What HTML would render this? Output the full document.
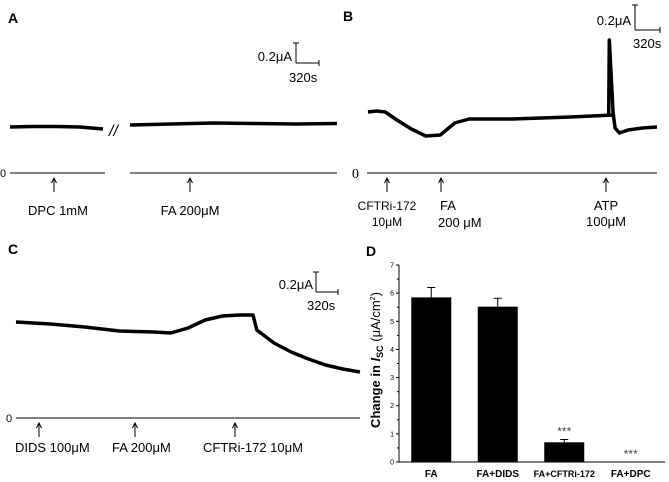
<!DOCTYPE html>
<html><head><meta charset="utf-8"><style>
body{margin:0;background:#fff}
svg{display:block;font-family:"Liberation Sans",Arial,sans-serif}
</style></head><body>
<svg id="fig" width="669" height="482" viewBox="0 0 669 482">
<!-- Panel A -->
<g>
<text x="8" y="23" font-size="14" font-weight="bold">A</text>
<g stroke="#000" stroke-width="1">
<line x1="296" y1="43" x2="296" y2="63"/><line x1="293" y1="43" x2="299" y2="43"/><line x1="296" y1="63" x2="319" y2="63"/><line x1="319" y1="60" x2="319" y2="66"/></g>
<text x="292" y="61" font-size="13" text-anchor="end">0.2μA</text>
<text x="289" y="82" font-size="13">320s</text>
<text x="109" y="136" font-size="16" font-style="italic">//</text>
<text x="0" y="177" font-size="11">0</text>
<line x1="10" y1="173" x2="105" y2="173" stroke="#000"/>
<line x1="130" y1="173" x2="337" y2="173" stroke="#000"/>
<text x="58" y="215" font-size="13" text-anchor="middle">DPC 1mM</text>
<text x="190" y="215" font-size="13" text-anchor="middle">FA 200μM</text>
</g>
<!-- Panel B -->
<g>
<text x="343" y="21" font-size="14" font-weight="bold">B</text>
<g stroke="#000" stroke-width="1">
<line x1="635" y1="5" x2="635" y2="30"/><line x1="632" y1="5" x2="638" y2="5"/><line x1="635" y1="30" x2="660" y2="30"/><line x1="660" y1="27" x2="660" y2="33"/></g>
<text x="631" y="25" font-size="13" text-anchor="end">0.2μA</text>
<text x="633" y="48" font-size="13">320s</text>
<text x="352" y="178" font-size="14" font-family="Liberation Serif,serif">0</text>
<line x1="367" y1="173" x2="657" y2="173" stroke="#000"/>
<text x="387" y="210" font-size="12" text-anchor="middle">CFTRi-172</text>
<text x="387" y="226" font-size="12" text-anchor="middle">10μM</text>
<text x="440" y="210" font-size="13">FA</text>
<text x="438" y="227" font-size="13">200 μM</text>
<text x="606" y="210" font-size="13" text-anchor="middle">ATP</text>
<text x="606" y="226" font-size="13" text-anchor="middle">100μM</text>
</g>
<!-- Panel C -->
<g>
<text x="8" y="254" font-size="14" font-weight="bold">C</text>
<g stroke="#000" stroke-width="1">
<line x1="316" y1="272" x2="316" y2="292"/><line x1="313" y1="272" x2="319" y2="272"/><line x1="316" y1="292" x2="338" y2="292"/><line x1="338" y1="289" x2="338" y2="295"/></g>
<text x="313" y="289" font-size="13" text-anchor="end">0.2μA</text>
<text x="307" y="310" font-size="13">320s</text>
<text x="6" y="422" font-size="11">0</text>
<line x1="16" y1="418" x2="360" y2="418" stroke="#000"/>
<text x="15" y="452" font-size="13">DIDS 100μM</text>
<text x="112" y="452" font-size="13">FA 200μM</text>
<text x="203" y="452" font-size="13">CFTRi-172 10μM</text>
</g>
<!-- Panel D -->
<g>
<text x="366" y="256" font-size="14" font-weight="bold">D</text>
<text transform="translate(380,360) rotate(-90)" font-size="13" font-weight="bold" text-anchor="middle">Change in <tspan font-style="italic">I</tspan><tspan font-size="9" dy="3">SC</tspan><tspan dy="-3" font-weight="normal"> (μA/cm</tspan><tspan font-size="7" dy="-5" font-weight="normal">2</tspan><tspan dy="5" font-weight="normal">)</tspan></text>
<g id="dplot"></g>
</g>
<g id="traces"></g>
</svg>
<script>
// Panel D data
const dCategories = ["FA", "FA+DIDS", "FA+CFTRi-172", "FA+DPC"];
const dValues = [5.85, 5.52, 0.70, 0.0];
const dErrors = [0.35, 0.30, 0.10, 0.0];
const dStars = ["", "", "***", "***"];
const dTicks = [0, 1, 2, 3, 4, 5, 6, 7];

// Traces: [time fraction, current] key points
const traceA1T = [0, 0.25, 0.5, 0.75, 1];
const traceA1V = [46, 46.5, 46.5, 46, 44];
const traceA2T = [0, 0.2, 0.4, 0.6, 0.8, 1];
const traceA2V = [48, 49, 50, 49.5, 49, 49.5];
const traceBT = [0, 0.03, 0.06, 0.1, 0.15, 0.2, 0.25, 0.3, 0.35, 0.5, 0.7, 0.85, 0.833, 0.835, 0.842, 0.848, 0.855, 0.87, 0.9, 0.95, 1];
const traceBV = [61, 62, 61, 53, 44, 37, 38, 50, 54, 54, 56, 58, 58, 133, 95, 60, 45, 40, 43, 45, 46];
const traceCT = [0, 0.1, 0.2, 0.3, 0.4, 0.45, 0.5, 0.55, 0.6, 0.65, 0.689, 0.7, 0.75, 0.8, 0.85, 0.9, 0.95, 1];
const traceCV = [96, 94, 91, 87, 86, 85, 90, 98, 102, 103, 103, 88, 75, 66, 59, 53, 49, 46];

const NS = "http://www.w3.org/2000/svg";
function mk(tag, attrs, parent) {
  const el = document.createElementNS(NS, tag);
  for (const k in attrs) el.setAttribute(k, attrs[k]);
  parent.appendChild(el);
  return el;
}

const dp = document.getElementById("dplot");
const x0 = 399, x1 = 665, yBase = 462, yTop = 265, yMax = 7;
const yS = v => yBase - (v / yMax) * (yBase - yTop);
const band = (x1 - x0) / dCategories.length;
const xC = i => x0 + band * (i + 0.5) - 1;
const yAxis = mk("line", {x1: x0, y1: yS(yMax), x2: x0, y2: yBase, stroke: "#000"}, dp);


const xAxis = mk("line", {x1: x0, y1: yBase, x2: x1, y2: yBase, stroke: "#000"}, dp);


dTicks.forEach(t => {
  const tl = mk("line", {x1: x0 - 3, y1: yS(t), x2: x0, y2: yS(t), stroke: "#000"}, dp);
  
  
  if (t < yMax) {
    const m = mk("line", {x1: x0 - 2, y1: yS(t + 0.5), x2: x0, y2: yS(t + 0.5), stroke: "#000"}, dp);
    
    
  }
  const tx = mk("text", {x: x0 - 5, y: yS(t) + 2.5, "font-size": 7, "text-anchor": "end"}, dp);
  tx.textContent = t;
  
  
});
dCategories.forEach((c, i) => {
  const cx = xC(i), w = 40;
  if (dValues[i] > 0) {
    const b = mk("rect", {x: cx - w / 2, y: yS(dValues[i]), width: w, height: yBase - yS(dValues[i]), fill: "#000"}, dp);
    
    
  }
  if (dErrors[i] > 0) {
    const e = mk("path", {d: `M${cx},${yS(dValues[i])}V${yS(dValues[i] + dErrors[i])}M${cx - 4},${yS(dValues[i] + dErrors[i])}H${cx + 4}`, stroke: "#000", fill: "none"}, dp);
    
    
  }
  if (dStars[i]) {
    const s = mk("text", {x: cx, y: yS(dValues[i] + dErrors[i]) - 4, "font-size": 12, "text-anchor": "middle", fill: "#444"}, dp);
    s.textContent = dStars[i];
    
    
  }
  const l = mk("text", {x: cx, y: 477, "font-size": i === 2 ? 9 : 10, "font-weight": "bold", "text-anchor": "middle"}, dp);
  l.textContent = c;
  
  
});

const tg = document.getElementById("traces");
function trace(ts, vs, xa, xb, base, name) {
  const d = ts.map((t, i) => (i ? "L" : "M") + (xa + t * (xb - xa)).toFixed(1) + "," + (base - vs[i]).toFixed(1)).join("");
  const p = mk("path", {d: d, stroke: "#000", "stroke-width": 3.5, fill: "none", "stroke-linejoin": "round"}, tg);
  
  
}
trace(traceA1T, traceA1V, 10, 103, 173, "trace-a-dpc");
trace(traceA2T, traceA2V, 130, 337, 173, "trace-a-fa");
trace(traceBT, traceBV, 368, 657, 173, "trace-b");
trace(traceCT, traceCV, 16, 360, 418, "trace-c");

const arrowXs = [54, 190, 387, 441, 606, 39, 135, 235];
const arrowYs = [178, 178, 178, 178, 178, 423, 423, 423];
arrowXs.forEach((x, i) => {
  const y = arrowYs[i];
  const a = mk("path", {d: `M${x},${y + 14}V${y}M${x - 2.5},${y + 5}L${x},${y}L${x + 2.5},${y + 5}`, stroke: "#000", fill: "none"}, tg);
  
  
});
</script>
</body></html>
